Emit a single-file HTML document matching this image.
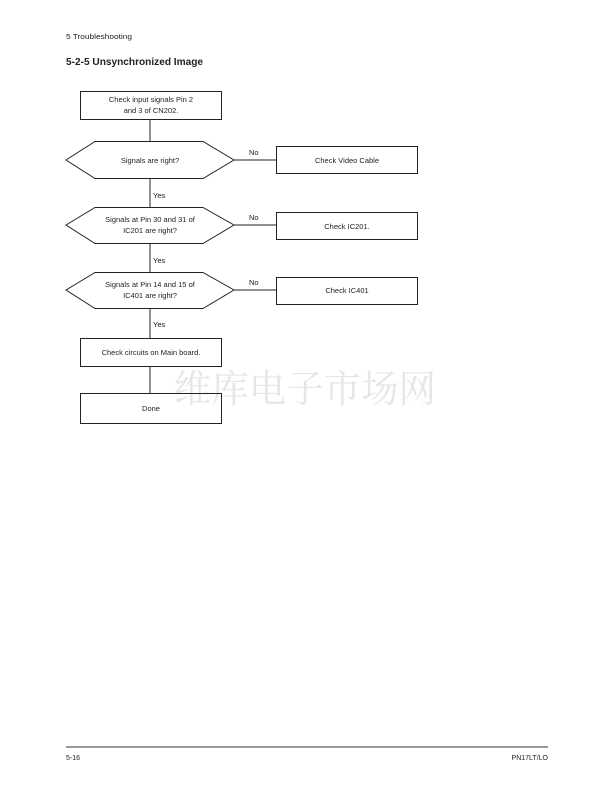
<!DOCTYPE html>
<html><head><meta charset="utf-8"><style>
html,body{margin:0;padding:0;background:#fff;}
svg{display:block;}
text{font-family:"Liberation Sans",sans-serif;fill:#222;}
</style></head><body>
<svg width="612" height="792" viewBox="0 0 612 792" xmlns="http://www.w3.org/2000/svg">
<text x="66" y="39" font-size="7" textLength="66" lengthAdjust="spacingAndGlyphs">5 Troubleshooting</text>
<text x="66" y="65" font-size="10" font-weight="bold" textLength="137" lengthAdjust="spacingAndGlyphs">5-2-5 Unsynchronized Image</text>

<text x="305" y="402" font-size="38" text-anchor="middle" style="fill:#e6e6e6;font-family:'Noto Serif CJK SC','Noto Sans CJK SC',serif" textLength="262" lengthAdjust="spacingAndGlyphs">维库电子市场网</text>

<g stroke="#222" stroke-width="1" fill="none">
<line x1="150" y1="119" x2="150" y2="141"/>
<line x1="150" y1="178" x2="150" y2="207"/>
<line x1="150" y1="243" x2="150" y2="272"/>
<line x1="150" y1="308" x2="150" y2="338"/>
<line x1="150" y1="366" x2="150" y2="393"/>
<line x1="234" y1="160" x2="276" y2="160"/>
<line x1="234" y1="225" x2="276" y2="225"/>
<line x1="234" y1="290" x2="276" y2="290"/>
<rect x="80.5" y="91.5" width="141" height="28"/>
<polygon points="66,160 95,141.5 203,141.5 234,160 203,178.5 95,178.5"/>
<rect x="276.5" y="146.5" width="141" height="27"/>
<polygon points="66,225 95,207.5 203,207.5 234,225 203,243.5 95,243.5"/>
<rect x="276.5" y="212.5" width="141" height="27"/>
<polygon points="66,290 95,272.5 203,272.5 234,290 203,308.5 95,308.5"/>
<rect x="276.5" y="277.5" width="141" height="27"/>
<rect x="80.5" y="338.5" width="141" height="28"/>
<rect x="80.5" y="393.5" width="141" height="30"/>
</g>
<g font-size="7.5" text-anchor="middle">
<text x="151" y="102">Check input signals Pin 2</text>
<text x="151" y="113">and 3 of CN202.</text>
<text x="150" y="163">Signals are right?</text>
<text x="347" y="163">Check Video Cable</text>
<text x="150" y="222">Signals at Pin 30 and 31 of</text>
<text x="150" y="233">IC201 are right?</text>
<text x="347" y="229">Check IC201.</text>
<text x="150" y="287">Signals at Pin 14 and 15 of</text>
<text x="150" y="298">IC401 are right?</text>
<text x="347" y="293">Check IC401</text>
<text x="151" y="355">Check circuits on Main board.</text>
<text x="151" y="411">Done</text>
</g>
<g font-size="7.5">
<text x="249" y="155">No</text>
<text x="249" y="220">No</text>
<text x="249" y="285">No</text>
<text x="153" y="198">Yes</text>
<text x="153" y="263">Yes</text>
<text x="153" y="327">Yes</text>
</g>
<line x1="66" y1="747" x2="548" y2="747" stroke="#333" stroke-width="1"/>
<text x="66" y="760" font-size="7">5-16</text>
<text x="548" y="760" font-size="7" text-anchor="end">PN17LT/LO</text>
</svg>
</body></html>
